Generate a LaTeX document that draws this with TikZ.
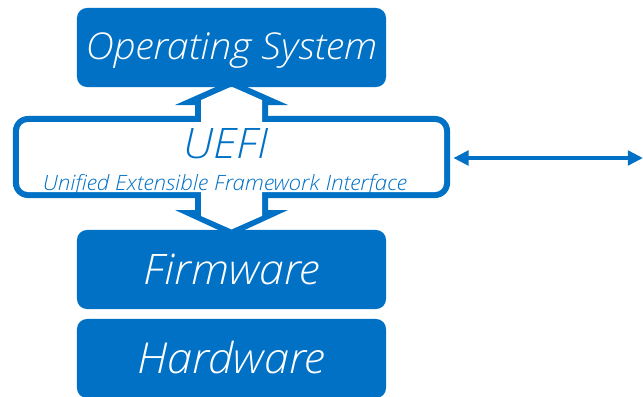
\documentclass[tikz,border=0pt]{standalone}
\usepackage{fontspec}
\setmainfont{Open Sans}[UprightFont=* Light, ItalicFont=* Light Italic, FakeStretch=1.06]
\usetikzlibrary{arrows.meta,positioning}

\definecolor{uefiblue}{RGB}{0,113,197}

\begin{document}
\begin{tikzpicture}[
  x=0.025cm, y=-0.025cm,
  layerbox/.style={fill=uefiblue, rounded corners=0.25cm, minimum width=7.725cm,
    minimum height=1.975cm, text=white, inner sep=0pt, text depth=0pt},
  frame/.style={fill=uefiblue, rounded corners=0.375cm,
    minimum width=10.925cm, minimum height=2.05cm, inner sep=0pt},
  link/.style={{Triangle[length=0.38cm,width=0.36cm]}-{Triangle[length=0.38cm,width=0.36cm]},
    draw=uefiblue, line width=0.1cm}
]
\useasboundingbox (0,0) rectangle (643,396);

% double arrow and UEFI frame: blue outer shapes, then white insides
\fill[uefiblue] (231.5,80) -- (288,105) -- (268,105) -- (268,210) -- (288,210)
  -- (231.5,236) -- (175,210) -- (195,210) -- (195,105) -- (175,105) -- cycle;
\node[frame] (uefi) at (231.5,157) {};
\fill[white] (231.5,86.6) -- (262,100.1) -- (262,215.9) -- (231.5,229.4)
  -- (201,215.9) -- (201,100.1) -- cycle;
\fill[white, rounded corners=0.225cm] (19,122) rectangle (444,192);

\node[text=uefiblue, anchor=base, font=\fontsize{29.9}{34}\selectfont\itshape]
  (uefititle) at (226,158) {UEFI};
\node[text=uefiblue, anchor=base, font=\fontsize{15}{18}\selectfont\itshape]
  (uefisub) at (225,190) {Unified Extensible Framework Interface};

% layers
\node[layerbox, text height=0.62cm, font=\fontsize{26.3}{30}\selectfont\itshape]
  (os) at (231.5,47.5) {Operating System};
\node[layerbox, text height=0.75cm, font=\fontsize{29.9}{34}\selectfont\itshape]
  (fw) at (231.5,269.5) {Firmware};
\node[layerbox, text height=0.74cm, font=\fontsize{30.3}{34}\selectfont\itshape]
  (hw) at (231.5,358.5) {Hardware};

% link to the right
\coordinate (outside) at (643,158);
\draw[link, shorten <=0.075cm] (uefi.east |- outside) -- (outside);
\end{tikzpicture}
\end{document}
